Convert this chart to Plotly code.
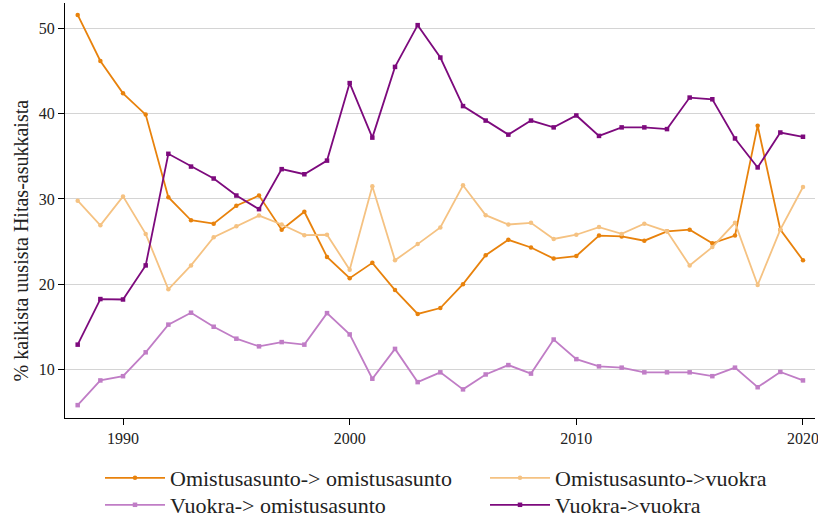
import plotly.graph_objects as go

years = list(range(1988, 2021))

omistus_omistus = [51.6, 46.2, 42.4, 39.9, 30.2, 27.5, 27.1, 29.2, 30.4, 26.4, 28.5,
                   23.2, 20.7, 22.5, 19.3, 16.5, 17.2, 20.0, 23.4, 25.2, 24.3, 23.0,
                   23.3, 25.7, 25.6, 25.1, 26.2, 26.4, 24.8, 25.7, 38.6, 26.4, 22.8]
omistus_vuokra = [29.8, 26.9, 30.3, 25.9, 19.4, 22.2, 25.5, 26.8, 28.05, 27.0, 25.75,
                  25.8, 21.7, 31.5, 22.8, 24.7, 26.65, 31.6, 28.1, 27.0, 27.2, 25.3,
                  25.8, 26.7, 25.9, 27.1, 26.2, 22.2, 24.35, 27.2, 19.9, 26.4, 31.4]
vuokra_omistus = [5.8, 8.7, 9.2, 12.0, 15.25, 16.65, 15.0, 13.6, 12.7, 13.2, 12.9,
                  16.6, 14.1, 8.9, 12.4, 8.5, 9.65, 7.65, 9.4, 10.5, 9.5, 13.5,
                  11.2, 10.35, 10.2, 9.65, 9.65, 9.65, 9.2, 10.2, 7.9, 9.7, 8.7]
vuokra_vuokra = [12.9, 18.25, 18.2, 22.2, 35.3, 33.8, 32.4, 30.4, 28.8, 33.5, 32.9,
                 34.5, 43.6, 37.2, 45.5, 50.4, 46.6, 40.9, 39.2, 37.55, 39.2, 38.4,
                 39.8, 37.4, 38.4, 38.4, 38.2, 41.9, 41.7, 37.1, 33.7, 37.8, 37.3]

# (name, values, colour, marker symbol)
series = [
    ("Omistusasunto-> omistusasunto", omistus_omistus, "#E8820C", "circle"),
    ("Omistusasunto->vuokra", omistus_vuokra, "#F5C282", "circle"),
    ("Vuokra-> omistusasunto", vuokra_omistus, "#C07DC6", "square"),
    ("Vuokra->vuokra", vuokra_vuokra, "#7D0A7D", "square"),
]

y_title = "% kaikista uusista Hitas-asukkaista"

FONT = "Liberation Serif"
W, H = 818, 513
ML, MR, MT, MB = 65, 3, 3, 95
PW, PH = W - ML - MR, H - MT - MB


def px_x(px):
    return (px - ML) / PW


def px_y(py):
    return (H - MB - py) / PH


# legend slot (left px, top px) for each series: 2 columns x 2 rows
legend_slots = [(100, 457), (485, 457), (100, 484), (485, 484)]
legend_ids = ["legend", "legend2", "legend3", "legend4"]

fig = go.Figure()
for (name, vals, color, sym), leg in zip(series, legend_ids):
    fig.add_trace(go.Scatter(
        x=years, y=vals, name=name, mode="lines+markers",
        line=dict(color=color, width=1.8),
        marker=dict(color=color, size=4.5, symbol=sym),
        legend=leg,
    ))

legend_style = dict(
    orientation="v", xanchor="left", yanchor="top",
    font=dict(family=FONT, size=22, color="#222222"),
    itemwidth=60, tracegroupgap=0, bgcolor="rgba(0,0,0,0)",
)

legend_layout = {
    leg: dict(x=px_x(lx), y=px_y(ly), **legend_style)
    for leg, (lx, ly) in zip(legend_ids, legend_slots)
}

fig.update_layout(
    width=W, height=H,
    margin=dict(l=ML, r=MR, t=MT, b=MB, autoexpand=False),
    paper_bgcolor="white", plot_bgcolor="white",
    font=dict(family=FONT, size=16, color="#222222"),
    showlegend=True,
    annotations=[dict(
        text=y_title, textangle=-90, showarrow=False,
        xref="paper", yref="paper",
        x=px_x(20), y=px_y(240.5),
        xanchor="center", yanchor="middle",
        font=dict(family=FONT, size=20, color="#222222"),
    )],
    **legend_layout,
)
fig.update_xaxes(
    range=[1987.44, 2020.53], tickvals=[1990, 2000, 2010, 2020],
    showgrid=False, zeroline=False, automargin=False,
    showline=True, linecolor="black", linewidth=1.2,
    ticks="outside", ticklen=6, tickcolor="black",
    tickfont=dict(family=FONT, size=16),
    ticklabeloverflow="allow",
)
fig.update_yaxes(
    range=[4.29, 53.0], tickvals=[10, 20, 30, 40, 50],
    showgrid=True, gridcolor="#D4D4D4", gridwidth=1,
    zeroline=False, automargin=False,
    showline=True, linecolor="black", linewidth=1.2,
    ticks="outside", ticklen=6, tickcolor="black",
    tickfont=dict(family=FONT, size=16),
)

fig.write_html("out.html", config={"displayModeBar": False},
               post_script="document.body.style.margin='0';")
